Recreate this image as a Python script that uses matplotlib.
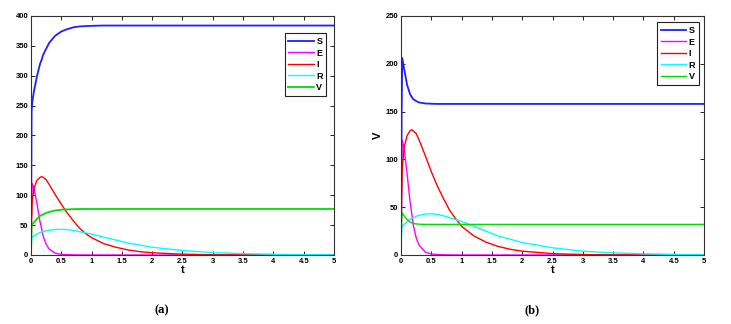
import numpy as np
import matplotlib.pyplot as plt
import matplotlib

matplotlib.rcParams.update({
    "font.family": "Liberation Sans",
    "font.weight": "bold",
    "font.size": 6,
    "axes.linewidth": 0.8,
    "axes.edgecolor": "#333333",
    "xtick.direction": "in",
    "ytick.direction": "in",
    "xtick.major.size": 3,
    "ytick.major.size": 3,
})

# time samples
t = [0, 0.01, 0.02, 0.05, 0.1, 0.15, 0.18, 0.2, 0.25, 0.3, 0.4, 0.5, 0.6, 0.7,
     0.8, 0.9, 1.0, 1.2, 1.4, 1.6, 1.8, 2.0, 2.5, 3.0, 3.5, 4.0, 4.5, 5.0]

# (a)
S_a = [0, 240, 255, 275, 300, 320, 328, 335, 345, 355, 367, 374, 378, 381,
       382.5, 383, 383.5, 384, 384, 384, 384, 384, 384, 384, 384, 384, 384, 384]
E_a = [0, 90, 120, 112, 85, 55, 42, 32, 18, 10, 3, 1, 0.5, 0.2,
       0.1, 0, 0, 0, 0, 0, 0, 0, 0, 0, 0, 0, 0, 0]
I_a = [0, 60, 90, 112, 125, 130, 131, 130, 126, 118, 101, 85, 70, 57,
       45, 36, 29, 19, 13, 8.5, 5.5, 3.8, 1.3, 0.4, 0.15, 0.05, 0, 0]
R_a = [0, 28, 30, 32, 35, 37.5, 38.5, 39, 40.5, 41.5, 42.8, 43, 42.5, 41,
       39, 37, 35, 30, 25, 20, 16.5, 13, 7.5, 4, 2.2, 1.2, 0.6, 0.3]
V_a = [0, 48, 51, 55, 61, 65.5, 67, 68, 70.5, 72, 74.5, 75.8, 76.3, 76.7,
       76.9, 77, 77, 77, 77, 77, 77, 77, 77, 77, 77, 77, 77, 77]

# (b)
S_b = [0, 150, 206, 195, 178, 168, 165, 163, 161, 159.5, 158.5, 158.2, 158, 158,
       158, 158, 158, 158, 158, 158, 158, 158, 158, 158, 158, 158, 158, 158]
E_b = E_a
I_b = [0, 60, 90, 112, 125, 130, 131, 130, 127, 120, 104, 87, 72, 59,
       47, 38, 30, 20, 13.5, 9, 6, 4, 1.4, 0.5, 0.15, 0.05, 0, 0]
R_b = R_a
V_b = [0, 38, 44, 41, 37, 34.5, 33.5, 33, 32.5, 32.2, 32, 32, 32, 32,
       32, 32, 32, 32, 32, 32, 32, 32, 32, 32, 32, 32, 32, 32]

LABELS = ["S", "E", "I", "R", "V"]
COLORS = ["#1f1fff", "#ff00ff", "#ff0000", "#00ffff", "#00dd00"]

fig = plt.figure(figsize=(7.31, 3.24), dpi=100)
ax1 = fig.add_axes([0.0424, 0.213, 0.4145, 0.7377])
ax2 = fig.add_axes([0.5486, 0.213, 0.4145, 0.7377])

widths_a = [1.3, 1.0, 1.0, 1.0, 1.3]
widths_b = [1.3, 1.0, 1.0, 1.0, 1.0]

for ax, series, widths, ymax, anchor in [
        (ax1, [S_a, E_a, I_a, R_a, V_a], widths_a, 400, (0.99, 0.946)),
        (ax2, [S_b, E_b, I_b, R_b, V_b], widths_b, 250, (0.997, 0.992))]:
    for y, lab, c, w in zip(series, LABELS, COLORS, widths):
        ax.plot(t, y, color=c, lw=w, label=lab)
    ax.set_xlim(0, 5)
    ax.set_ylim(0, ymax)
    ax.set_xticks(np.arange(0, 5.01, 0.5))
    ax.set_xticklabels(["0", "0.5", "1", "1.5", "2", "2.5", "3", "3.5", "4", "4.5", "5"])
    ax.tick_params(top=True, right=True, labelsize=5.5, pad=2, width=0.6)
    ax.set_xlabel("t", fontsize=8, fontweight="bold", labelpad=0)
    leg = ax.legend(loc="upper right", bbox_to_anchor=anchor, fancybox=False,
                    edgecolor="#222222", fontsize=6.5, handlelength=2.8,
                    labelspacing=0.28, borderpad=0.4, handletextpad=0.3,
                    framealpha=1)
    leg.get_frame().set_linewidth(0.8)

ax1.set_yticks(np.arange(0, 401, 50))
ax2.set_yticks(np.arange(0, 251, 50))
ax2.set_ylabel("V", fontsize=8, fontweight="bold", labelpad=2)

fig.text(0.2216, 0.043, "(a)", ha="center", va="center", fontsize=9,
         fontweight="bold", family="Liberation Serif")
fig.text(0.7278, 0.043, "(b)", ha="center", va="center", fontsize=9,
         fontweight="bold", family="Liberation Serif")

fig.savefig("out.png", dpi=100)
